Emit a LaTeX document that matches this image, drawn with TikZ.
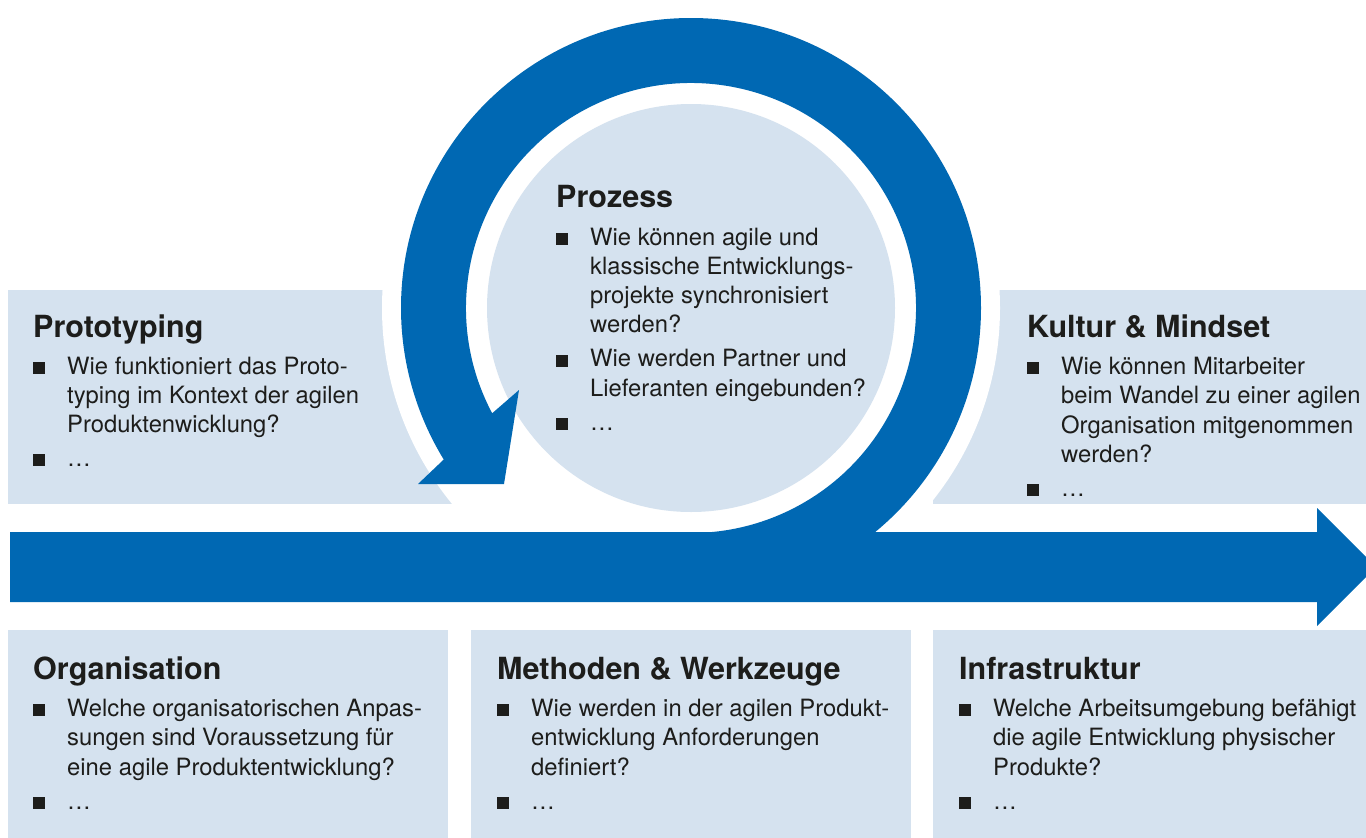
\documentclass[tikz,border=0pt]{standalone}
\usepackage{fontspec}
\setmainfont{TeX Gyre Heros}
\usetikzlibrary{calc}

\definecolor{ringblue}{HTML}{0068B3}
\definecolor{paleblue}{HTML}{D5E2EF}
\definecolor{ink}{HTML}{1D1D1B}

% square bullet sitting on the baseline
\newcommand\bulletsq{\raisebox{0.3pt}{\rule{12pt}{12pt}}}
% one question of a list, with hanging indent and manual line breaks
\newcommand\qitem[1]{\par\hangindent=34pt\hangafter=1\noindent
  \makebox[34pt][l]{\bulletsq}{\let\\\newline #1}\par}
% body text block: first baseline is the node's base
\newcommand\qlist[1]{\begin{minipage}[t]{440pt}\raggedright
  \hyphenpenalty=10000\setlength\parskip{4.7pt}%
  \fontsize{23.8}{29.3}\selectfont #1\end{minipage}}

\tikzset{
  panel/.style={fill=paleblue},
  heading/.style={anchor=base west, inner sep=0pt, text=ink,
    font=\fontsize{30.5}{34}\selectfont\bfseries},
  questions/.style={anchor=base west, inner sep=0pt, text=ink},
}

\begin{document}
\begin{tikzpicture}[x=1pt,y=-1pt]
  \useasboundingbox (0,0) rectangle (1366,838);
  \clip (0,0) rectangle (1366,838);

  % ring geometry
  \coordinate (C) at (691,308);

  % panels
  \fill[panel] (8,290) rectangle (470,504);
  \fill[panel] (933,290) rectangle (1366,504);
  \fill[panel] (8,630) rectangle (448,838);
  \fill[panel] (471,630) rectangle (911,838);
  \fill[panel] (933,630) rectangle (1366,838);

  % white gap around the loop
  \fill[white] (C) circle[radius=309];

  % inner disc
  \fill[panel] (C) circle[radius=204];

  % main arrow
  \fill[ringblue] (10,532) -- (1317,532) -- (1317,508) -- (1376,567)
    -- (1317,626) -- (1317,602) -- (10,602) -- cycle;

  % loop with its arrow head
  \fill[ringblue] (C) ++(90:290) arc[start angle=90, end angle=-211.5, radius=290]
    -- (418,484) -- (504,484) -- (519,390)
    -- ($(C)+(-207.9:225)$) arc[start angle=-207.9, end angle=90, radius=225]
    -- cycle;

  % Prototyping
  \node[heading] (proto-h) at (33,337) {Prototyping};
  \node[questions] (proto-q) at (33,374) {\qlist{%
    \qitem{Wie funktioniert das Proto-\\typing im Kontext der agilen\\Produktenwicklung?}
    \qitem{…}}};

  % Prozess
  \node[heading] (proz-h) at (556,207) {Prozess};
  \node[questions] (proz-q) at (556,245) {\qlist{%
    \qitem{Wie können agile und\\klassische Entwicklungs-\\projekte synchronisiert\\werden?}
    \qitem{Wie werden Partner und\\Lieferanten eingebunden?}
    \qitem{…}}};

  % Kultur & Mindset
  \node[heading] (kult-h) at (1027,337) {Kultur \& Mindset};
  \node[questions] (kult-q) at (1027,374.5) {\qlist{%
    \qitem{Wie können Mitarbeiter\\beim Wandel zu einer agilen\\Organisation mitgenommen\\werden?}
    \qitem{…}}};

  % Organisation
  \node[heading] (org-h) at (33,679) {Organisation};
  \node[questions] (org-q) at (33,716.5) {\qlist{%
    \qitem{Welche organisatorischen Anpas-\\sungen sind Voraussetzung für\\eine agile Produktentwicklung?}
    \qitem{…}}};

  % Methoden & Werkzeuge
  \node[heading] (meth-h) at (497,679) {Methoden \& Werkzeuge};
  \node[questions] (meth-q) at (497,716.5) {\qlist{%
    \qitem{Wie werden in der agilen Produkt-\\entwicklung Anforderungen\\definiert?}
    \qitem{…}}};

  % Infrastruktur
  \node[heading] (infra-h) at (959,679) {Infrastruktur};
  \node[questions] (infra-q) at (959,716.5) {\qlist{%
    \qitem{Welche Arbeitsumgebung befähigt\\die agile Entwicklung physischer\\Produkte?}
    \qitem{…}}};
\end{tikzpicture}
\end{document}
